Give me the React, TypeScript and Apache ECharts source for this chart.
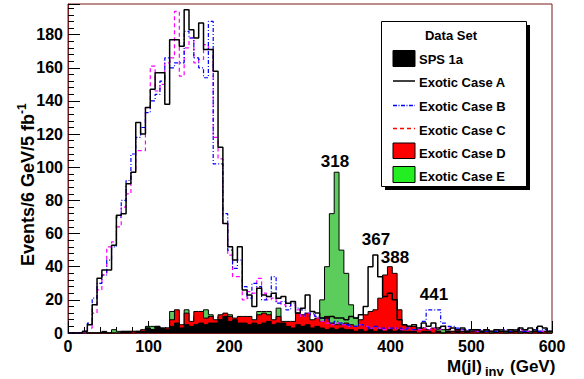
import React, { useEffect, useRef } from "react";
import * as echarts from "echarts";

// 100 bins of 6 GeV from 0 to 600 GeV
const BIN_WIDTH = 6;
const N_BINS = 100;
const binEdges = Array.from({ length: N_BINS + 1 }, (_, i) => i * BIN_WIDTH);

const sps1a = [
  0, 0, 0, 0, 0, 0, 0, 1, 0, 0,
  0, 1, 1, 0, 1, 1, 3, 2, 4, 3,
  2, 4, 6, 3, 5, 4, 5, 6, 5, 6,
  6, 8, 10, 7, 8, 6, 6, 5, 6, 5,
  6, 7, 5, 6, 6, 4, 3, 5, 4, 5,
  3, 4, 3, 2, 3, 2, 3, 2, 2, 1,
  2, 1, 2, 1, 2, 1, 2, 1, 2, 1,
  1, 1, 0, 1, 1, 0, 1, 0, 1, 0,
  1, 0, 1, 0, 0, 1, 0, 0, 1, 0,
  0, 1, 0, 0, 1, 0, 0, 1, 0, 0,
];

const caseA = [
  0, 0, 0, 1, 5, 17, 33, 38, 38, 53,
  71, 72, 90, 97, 127, 120, 136, 147, 157, 157,
  138, 177, 177, 173, 195, 183, 178, 187, 171, 171,
  158, 112, 66, 52, 44, 52, 26, 23, 16, 27,
  23, 22, 24, 21, 22, 18, 19, 12, 15, 23,
  13, 12, 9, 9, 10, 9, 9, 8, 10, 9,
  11, 16, 40, 47, 34, 22, 24, 20, 8, 5,
  4, 5, 3, 6, 4, 6, 3, 4, 2, 3,
  2, 3, 1, 2, 2, 1, 2, 1, 2, 1,
  1, 2, 1, 3, 2, 3, 1, 4, 3, 1,
];

const caseB = [
  0, 0, 0, 1, 6, 21, 30, 35, 44, 52,
  70, 80, 92, 108, 118, 124, 133, 140, 144, 152,
  166, 160, 163, 163, 182, 178, 166, 160, 154, 188,
  102, 102, 72, 50, 39, 44, 28, 21, 30, 28,
  20, 22, 34, 18, 19, 14, 18, 15, 14, 10,
  12, 10, 9, 8, 6, 7, 6, 5, 4, 4,
  5, 4, 3, 4, 3, 3, 3, 3, 3, 2,
  3, 2, 3, 7, 14, 14, 14, 6, 4, 4,
  3, 2, 2, 2, 1, 2, 1, 1, 1, 1,
  2, 1, 1, 2, 1, 1, 2, 1, 2, 1,
];

const caseC = [
  0, 0, 0, 0, 3, 12, 26, 35, 52, 55,
  64, 76, 84, 97, 110, 110, 136, 161, 146, 150,
  163, 166, 194, 155, 172, 178, 163, 165, 174, 171,
  118, 105, 66, 47, 34, 34, 20, 25, 24, 33,
  24, 20, 21, 19, 17, 16, 17, 14, 10, 12,
  11, 9, 7, 6, 5, 6, 5, 5, 4, 4,
  5, 4, 3, 3, 3, 2, 3, 3, 2, 2,
  3, 2, 2, 3, 2, 3, 2, 4, 3, 3,
  2, 2, 1, 2, 1, 1, 2, 1, 1, 1,
  1, 1, 1, 2, 1, 1, 1, 1, 1, 1,
];

const caseD = [
  0, 0, 0, 0, 0, 0, 0, 0, 0, 0,
  0, 1, 1, 1, 1, 2, 3, 2, 4, 3,
  3, 8, 14, 5, 12, 7, 13, 13, 9, 10,
  8, 11, 12, 10, 9, 10, 10, 10, 8, 11,
  12, 11, 8, 10, 7, 7, 7, 12, 11, 12,
  8, 9, 7, 10, 6, 5, 5, 6, 5, 4,
  8, 11, 13, 14, 21, 35, 40, 36, 14, 5,
  4, 4, 2, 3, 2, 3, 1, 0, 1, 1,
  2, 1, 1, 1, 2, 1, 1, 0, 1, 1,
  0, 1, 1, 0, 1, 0, 1, 0, 1, 0,
];

const caseE = [
  0, 0, 0, 0, 0, 0, 0, 0, 0, 2,
  1, 0, 0, 1, 1, 1, 4, 4, 3, 2,
  3, 13, 6, 4, 14, 6, 10, 11, 14, 11,
  7, 10, 11, 11, 8, 8, 6, 7, 7, 13,
  13, 13, 6, 15, 5, 6, 5, 9, 7, 8,
  6, 8, 20, 40, 72, 97, 50, 36, 17, 9,
  6, 4, 3, 3, 2, 2, 1, 2, 1, 2,
  2, 1, 2, 2, 1, 1, 2, 2, 1, 1,
  2, 1, 1, 2, 1, 1, 2, 1, 1, 2,
  1, 1, 2, 1, 1, 1, 2, 1, 1, 1,
];

const peakLabels = ["318", "367", "388", "441"];
const legendNames = ["SPS 1a", "Exotic Case A", "Exotic Case B", "Exotic Case C", "Exotic Case D", "Exotic Case E"];

const FONT = "'Liberation Sans', Arial, Helvetica, sans-serif";
const FRAME = "#7a1a1a";

function steps(values: number[]) {
  const pts = values.map((v, i) => [binEdges[i], v]);
  pts.push([binEdges[N_BINS], values[N_BINS - 1]]);
  return pts;
}

function filled(name: string, values: number[], color: string, z: number) {
  return {
    name,
    type: "line",
    step: "end",
    data: steps(values),
    symbol: "none",
    showSymbol: false,
    silent: true,
    z,
    lineStyle: { color: "#000", width: 1 },
    areaStyle: { color, opacity: 1 },
  };
}

function outline(name: string, values: number[], color: string, width: number, type: any, z: number) {
  return {
    name,
    type: "line",
    step: "end",
    data: steps(values),
    symbol: "none",
    showSymbol: false,
    silent: true,
    z,
    lineStyle: { color, width, type },
  };
}

const txt = (text: string, x: number, y: number, size: number, extra: any = {}) => ({
  type: "text",
  z: 100,
  x,
  y,
  style: {
    text,
    fontFamily: FONT,
    fontWeight: "bold",
    fontSize: size,
    fill: "#000",
    textAlign: "left",
    textVerticalAlign: "middle",
    ...extra,
  },
});

export default function App() {
  const ref = useRef<HTMLDivElement>(null);
  useEffect(() => {
    if (!ref.current) return;
    const chart = echarts.init(ref.current, null, { renderer: "svg" });
    const LX = 381;
    const LY = 21;
    const LW = 145;
    const LH = 165;
    const rowY = [59, 82, 106, 130, 153, 176.5];
    const legendGraphics: any[] = [
      { type: "rect", z: 99, shape: { x: LX + 4, y: LY + 4, width: LW, height: LH }, style: { fill: "#000" } },
      { type: "rect", z: 99, shape: { x: LX + 0.5, y: LY + 0.5, width: LW, height: LH }, style: { fill: "#fff", stroke: "#000", lineWidth: 1 } },
      txt("Data Set", 451, 35.5, 13, { textAlign: "center" }),
      { type: "rect", z: 100, shape: { x: 393, y: 50.5, width: 22, height: 16 }, style: { fill: "#000", stroke: "#000", lineWidth: 1 } },
      { type: "line", z: 100, shape: { x1: 393, y1: 81, x2: 415, y2: 81 }, style: { stroke: "#000", lineWidth: 1.5 } },
      { type: "line", z: 100, shape: { x1: 393, y1: 105.5, x2: 415, y2: 105.5 }, style: { stroke: "#0000ff", lineWidth: 1.5, lineDash: [4, 1.5, 1, 1.5] } },
      { type: "line", z: 100, shape: { x1: 393, y1: 128.5, x2: 415, y2: 128.5 }, style: { stroke: "#ff0000", lineWidth: 1.5, lineDash: [4, 3] } },
      { type: "rect", z: 100, shape: { x: 393, y: 143, width: 22, height: 15.5 }, style: { fill: "#ff0000", stroke: "#000", lineWidth: 1 } },
      { type: "rect", z: 100, shape: { x: 393, y: 166.5, width: 22, height: 16 }, style: { fill: "#22ee22", stroke: "#000", lineWidth: 1 } },
      ...legendNames.map((n, i) => txt(n, 419, rowY[i], 13)),
    ];
    const annotations: any[] = [
      txt(peakLabels[0], 335, 161, 17, { textAlign: "center" }),
      txt(peakLabels[1], 376, 239, 17, { textAlign: "center" }),
      txt(peakLabels[2], 395, 257, 17, { textAlign: "center" }),
      txt(peakLabels[3], 434, 294, 17, { textAlign: "center" }),
      // y axis title
      { ...txt("Events/6 GeV/5 fb", 28, 266, 18), rotation: Math.PI / 2 },
      { ...txt("-1", 22, 114, 12), rotation: Math.PI / 2 },
      // x axis title
      txt("M(jl)", 447, 366, 17),
      txt("inv", 485, 371, 13),
      txt("(GeV)", 510, 366, 17),
    ];

    const axisLabel = { fontFamily: FONT, fontWeight: "bold", fontSize: 16, color: "#000", margin: 5 };
    const option: any = {
      animation: false,
      backgroundColor: "#fff",
      grid: { left: 68, right: 32, top: 4, bottom: 46, show: true, borderColor: FRAME, borderWidth: 1, backgroundColor: "transparent" },
      xAxis: {
        type: "value",
        min: 0,
        max: 600,
        interval: 100,
        axisLine: { show: true, lineStyle: { color: FRAME, width: 1 } },
        axisTick: { show: true, inside: true, length: 12, lineStyle: { color: "#000", width: 1 } },
        minorTick: { show: true, splitNumber: 5, length: 6, lineStyle: { color: "#000", width: 1 } },
        splitLine: { show: false },
        minorSplitLine: { show: false },
        axisLabel,
      },
      yAxis: {
        type: "value",
        min: 0,
        max: 198.5,
        interval: 20,
        axisLine: { show: true, lineStyle: { color: FRAME, width: 1 } },
        axisTick: { show: true, inside: true, length: 12, lineStyle: { color: "#000", width: 1 } },
        minorTick: { show: true, splitNumber: 5, length: 6, lineStyle: { color: "#000", width: 1 } },
        splitLine: { show: false },
        minorSplitLine: { show: false },
        axisLabel: { ...axisLabel, showMaxLabel: false },
      },
      series: [
        filled("Exotic Case E", caseE, "#5ccc5c", 2),
        filled("Exotic Case D", caseD, "#ff0000", 3),
        filled("SPS 1a", sps1a, "#000000", 4),
        outline("Exotic Case C", caseC, "#ff00ff", 1.2, [4, 3], 5),
        outline("Exotic Case B", caseB, "#0000ff", 1.2, [4, 2, 1, 2], 6),
        outline("Exotic Case A", caseA, "#000000", 1.5, "solid", 7),
      ],
      graphic: [...annotations, ...legendGraphics],
    };
    chart.setOption(option);
    return () => chart.dispose();
  }, []);
  return <div ref={ref} style={{ position: "absolute", left: 0, top: 0, width: 584, height: 379 }} />;
}
